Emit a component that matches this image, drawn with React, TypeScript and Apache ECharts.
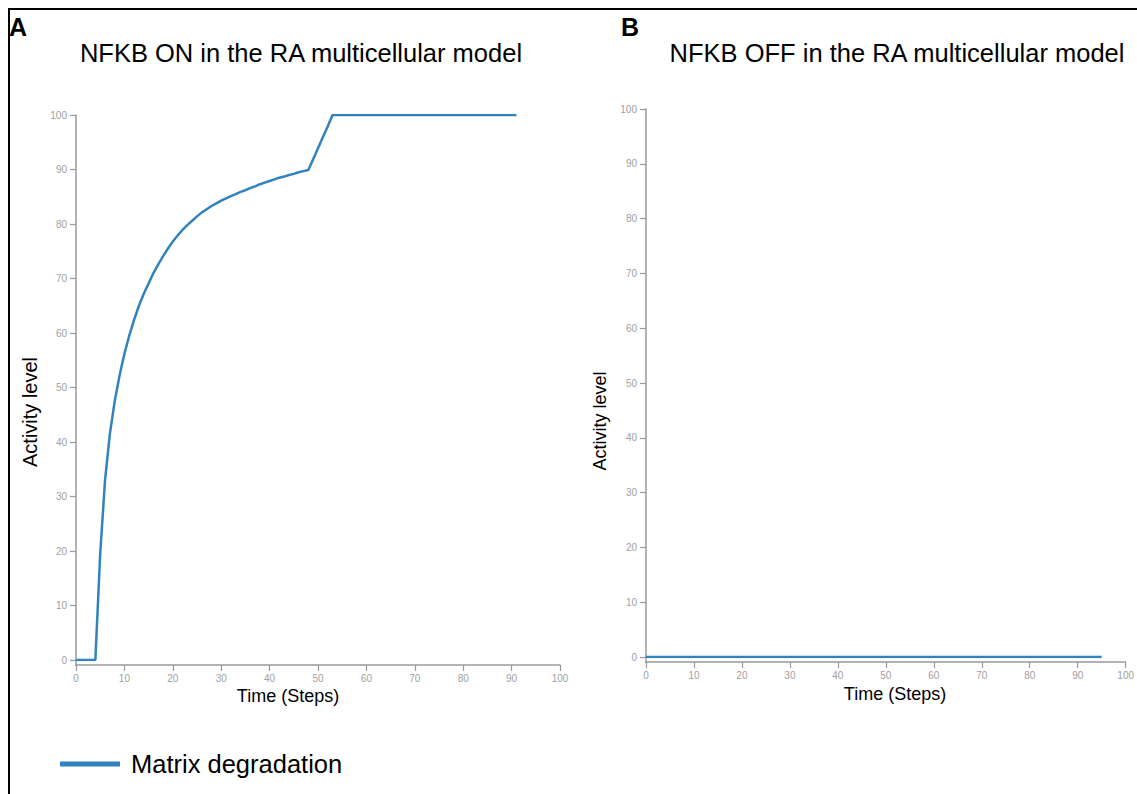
import React, { useEffect, useRef } from "react";
import * as echarts from "echarts";

const seriesName = "Matrix degradation";
const titleOn = "NFKB ON in the RA multicellular model";
const titleOff = "NFKB OFF in the RA multicellular model";
const xAxisName = "Time (Steps)";
const yAxisName = "Activity level";

// NFKB ON: activity level at steps 0, 1, 2, ... 91
const onValues = [
  0, 0, 0, 0, 0, 19.5, 33, 41.5, 47.5, 52.2,
  56.2, 59.5, 62.4, 65, 67.2, 69.1, 71, 72.6, 74.1, 75.5,
  76.8, 77.9, 78.9, 79.8, 80.6, 81.4, 82.1, 82.7, 83.3, 83.8,
  84.3, 84.7, 85.1, 85.5, 85.9, 86.2, 86.6, 86.9, 87.3, 87.6,
  87.9, 88.2, 88.5, 88.7, 89.0, 89.2, 89.5, 89.7, 89.9, 91.9,
  93.9, 95.9, 97.9, 100, 100, 100, 100, 100, 100, 100,
  100, 100, 100, 100, 100, 100, 100, 100, 100, 100,
  100, 100, 100, 100, 100, 100, 100, 100, 100, 100,
  100, 100, 100, 100, 100, 100, 100, 100, 100, 100,
  100, 100,
];

// NFKB OFF: activity level stays at 0 from step 0 to step 95
const offSteps = [0, 95];
const offValues = [0, 0];

const LINE_COLOR = "#3182bd";
const AXIS_COLOR = "#9a9a9a";
const FONT = "'Liberation Sans', Arial, sans-serif";

function makeXAxis(gridIndex: number) {
  return {
    gridIndex,
    type: "value",
    min: 0,
    max: 100,
    interval: 10,
    offset: 5,
    axisLine: { show: true, onZero: false, lineStyle: { color: AXIS_COLOR, width: 1.5 } },
    axisTick: { show: true, length: 6, lineStyle: { color: AXIS_COLOR, width: 1.2 } },
    axisLabel: { color: "#a0a0a0", fontSize: 10, margin: 8, fontFamily: FONT },
    splitLine: { show: false },
  };
}

function makeYAxis(gridIndex: number) {
  return {
    gridIndex,
    type: "value",
    min: 0,
    max: 100,
    interval: 10,
    axisLine: { show: true, lineStyle: { color: AXIS_COLOR, width: 1.5 } },
    axisTick: { show: true, length: 6, lineStyle: { color: AXIS_COLOR, width: 1.2 } },
    axisLabel: { color: "#a0a0a0", fontSize: 10, margin: 9, fontFamily: FONT },
    splitLine: { show: false },
  };
}

function axisName(text: string, x: number, y: number, rotate: boolean, size: number) {
  return {
    type: "text",
    x,
    y,
    rotation: rotate ? Math.PI / 2 : 0,
    style: {
      text,
      fontSize: size,
      fill: "#000",
      fontFamily: FONT,
      textAlign: "center",
      textVerticalAlign: "middle",
    },
  };
}

export default function App() {
  const ref = useRef<HTMLDivElement>(null);

  useEffect(() => {
    if (!ref.current) return;
    const chart = echarts.init(ref.current, undefined, { renderer: "svg" });
    const onData = onValues.map((v, i) => [i, v]);
    const offData = offSteps.map((s, i) => [s, offValues[i]]);

    chart.setOption({
      animation: false,
      backgroundColor: "#fff",
      textStyle: { fontFamily: FONT },
      title: [
        {
          text: titleOn,
          left: 296,
          top: 35,
          textAlign: "center",
          textStyle: { fontSize: 25.5, fontWeight: "normal", color: "#000", fontFamily: FONT },
        },
        {
          text: titleOff,
          left: 892,
          top: 35,
          textAlign: "center",
          textStyle: { fontSize: 25.5, fontWeight: "normal", color: "#000", fontFamily: FONT },
        },
      ],
      grid: [
        { left: 76, top: 115, width: 484, height: 545 },
        { left: 646, top: 109, width: 485, height: 548 },
      ],
      xAxis: [makeXAxis(0), makeXAxis(1)],
      yAxis: [makeYAxis(0), makeYAxis(1)],
      legend: {
        left: 60,
        top: 751,
        padding: 0,
        icon: "rect",
        itemWidth: 60,
        itemHeight: 5,
        data: [seriesName],
        textStyle: { fontSize: 25.5, color: "#000", fontFamily: FONT, padding: [0, 0, 0, 6] },
      },
      series: [
        {
          name: seriesName,
          type: "line",
          xAxisIndex: 0,
          yAxisIndex: 0,
          data: onData,
          showSymbol: false,
          symbol: "none",
          lineStyle: { color: LINE_COLOR, width: 2.5 },
          itemStyle: { color: LINE_COLOR },
        },
        {
          name: seriesName,
          type: "line",
          xAxisIndex: 1,
          yAxisIndex: 1,
          data: offData,
          showSymbol: false,
          symbol: "none",
          lineStyle: { color: LINE_COLOR, width: 2.5 },
          itemStyle: { color: LINE_COLOR },
        },
      ],
      graphic: [
        { type: "line", shape: { x1: 8, y1: 9, x2: 1137, y2: 9 }, style: { stroke: "#000", lineWidth: 2 } },
        { type: "line", shape: { x1: 9, y1: 8, x2: 9, y2: 794 }, style: { stroke: "#000", lineWidth: 2 } },
        { type: "line", shape: { x1: 76, y1: 659, x2: 76, y2: 666 }, style: { stroke: AXIS_COLOR, lineWidth: 1.5 } },
        { type: "line", shape: { x1: 646, y1: 656, x2: 646, y2: 663 }, style: { stroke: AXIS_COLOR, lineWidth: 1.5 } },
        axisName(xAxisName, 288, 696, false, 18),
        axisName(xAxisName, 895, 694, false, 18),
        axisName(yAxisName, 30, 412, true, 20),
        axisName(yAxisName, 600, 421, true, 18),
        {
          type: "text",
          left: 9,
          top: 14,
          style: { text: "A", fontSize: 25, fontWeight: "bold", fill: "#000", fontFamily: FONT },
        },
        {
          type: "text",
          left: 621,
          top: 14,
          style: { text: "B", fontSize: 25, fontWeight: "bold", fill: "#000", fontFamily: FONT },
        },
      ],
    });

    return () => chart.dispose();
  }, []);

  return (
    <div
      ref={ref}
      style={{ position: "absolute", left: 0, top: 0, width: 1137, height: 794 }}
    />
  );
}
